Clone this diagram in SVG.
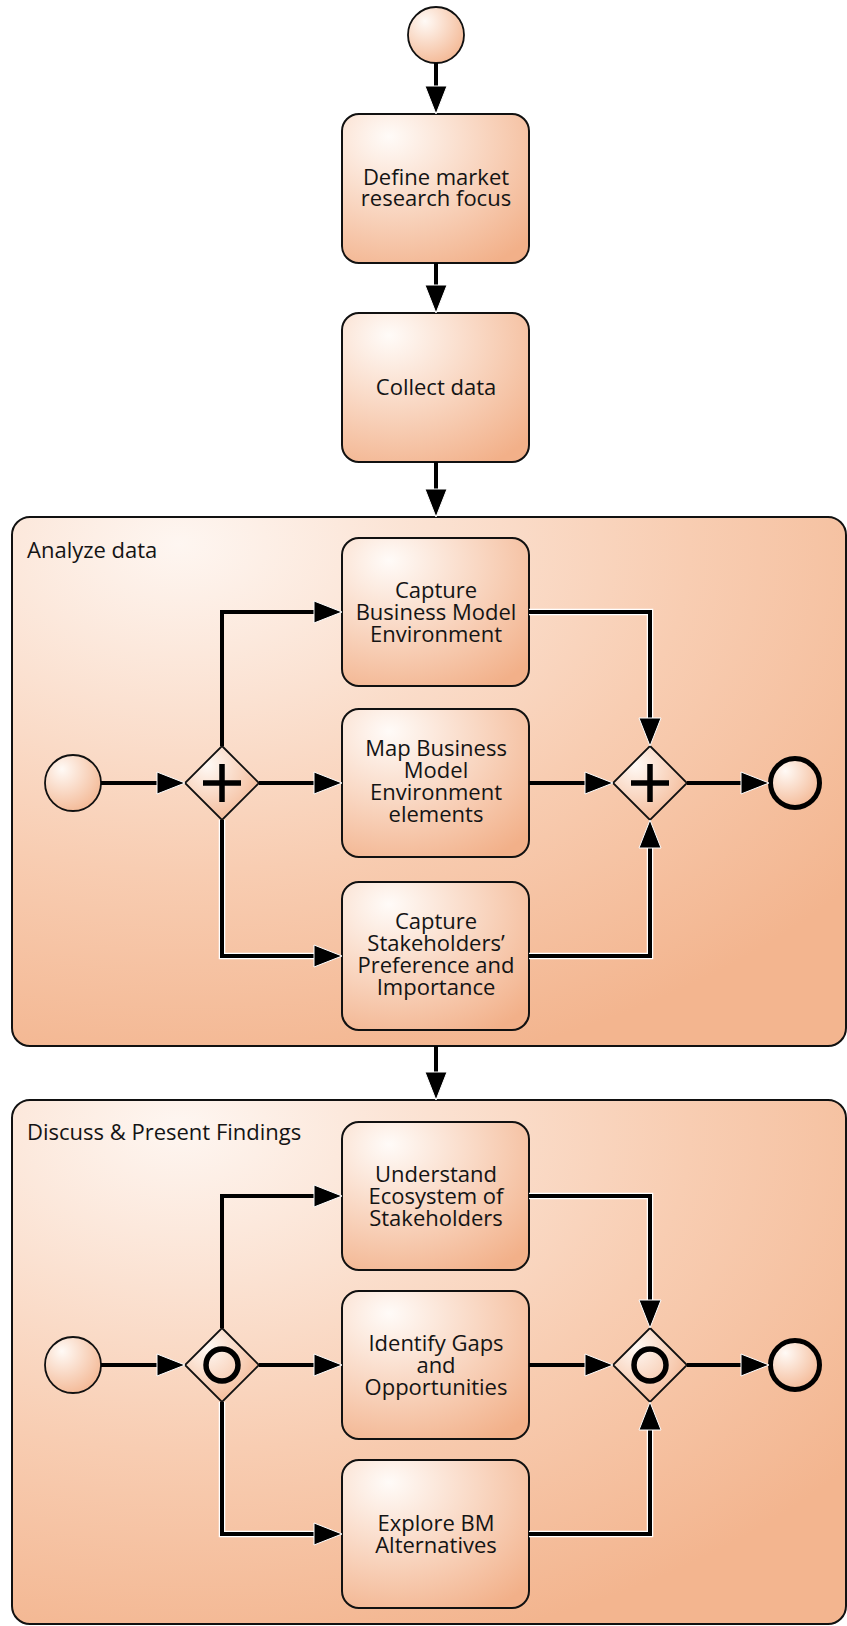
<svg xmlns="http://www.w3.org/2000/svg" width="847" height="1626" viewBox="0 0 847 1626">
<defs>
<radialGradient id="gTask" cx="0.3" cy="0.2" r="0.95" fx="0.25" fy="0.15">
<stop offset="0" stop-color="#fffbf8"/>
<stop offset="0.55" stop-color="#f8d2bb"/>
<stop offset="1" stop-color="#f2b089"/>
</radialGradient>
<radialGradient id="gCirc" cx="0.35" cy="0.3" r="0.8" fx="0.3" fy="0.25">
<stop offset="0" stop-color="#fffaf6"/>
<stop offset="1" stop-color="#f3b590"/>
</radialGradient>
<radialGradient id="gSub" cx="0.22" cy="0.08" r="1.0" fx="0.2" fy="0.05">
<stop offset="0" stop-color="#fef6f1"/>
<stop offset="0.6" stop-color="#f8cdb2"/>
<stop offset="1" stop-color="#f3b58f"/>
</radialGradient>
<marker id="arr" markerUnits="userSpaceOnUse" markerWidth="32" markerHeight="26" viewBox="-1 -1 32 26" refX="18" refY="12" orient="auto">
<path d="M0,1 L28,12 L0,23 Z" fill="#000" stroke="#fff" stroke-width="1"/>
</marker>
<style>
.task{fill:url(#gTask);stroke:#111;stroke-width:2}
.sub{fill:url(#gSub);stroke:#111;stroke-width:2}
.ev{fill:url(#gCirc);stroke:#111;stroke-width:1.8}
.end{fill:url(#gCirc);stroke:#000;stroke-width:5}
.gw{fill:url(#gCirc);stroke:#111;stroke-width:1.8}
.sym{fill:none;stroke:#000;stroke-width:5.5}
text{font-family:"Open Sans","Noto Sans","DejaVu Sans",sans-serif;font-size:22px;fill:#141414}
.c{text-anchor:middle}
.halo{fill:none;stroke:#fff;stroke-width:6.5}
.flow{fill:none;stroke:#000;stroke-width:4;marker-end:url(#arr)}
</style>
</defs>
<rect width="847" height="1626" fill="#fff"/>

<g id="start">
<circle class="ev" cx="436" cy="35" r="28"/>
</g>
<g id="task-define">
<rect class="task" x="342" y="114" width="187" height="149" rx="17"/>
<text class="c" x="436" y="185">Define market</text>
<text class="c" x="436" y="206">research focus</text>
</g>
<g id="task-collect">
<rect class="task" x="342" y="313" width="187" height="149" rx="17"/>
<text class="c" x="436" y="395">Collect data</text>
</g>

<g id="sub-analyze">
<rect class="sub" x="12" y="517" width="834" height="529" rx="18"/>
<text x="27" y="558">Analyze data</text>
</g>
<g id="a-start"><circle class="ev" cx="73" cy="783" r="28"/></g>
<g id="a-split">
<path class="gw" d="M222,746 L259,783 L222,820 L185,783 Z"/>
<path class="sym" d="M203,783 H241 M222,764 V802"/>
</g>
<g id="a-task1">
<rect class="task" x="342" y="538" width="187" height="148" rx="17"/>
<text class="c" x="436" y="598">Capture</text>
<text class="c" x="436" y="620">Business Model</text>
<text class="c" x="436" y="642">Environment</text>
</g>
<g id="a-task2">
<rect class="task" x="342" y="709" width="187" height="148" rx="17"/>
<text class="c" x="436" y="756">Map Business</text>
<text class="c" x="436" y="778">Model</text>
<text class="c" x="436" y="800">Environment</text>
<text class="c" x="436" y="822">elements</text>
</g>
<g id="a-task3">
<rect class="task" x="342" y="882" width="187" height="148" rx="17"/>
<text class="c" x="436" y="929">Capture</text>
<text class="c" x="436" y="951">Stakeholders’</text>
<text class="c" x="436" y="973">Preference and</text>
<text class="c" x="436" y="995">Importance</text>
</g>
<g id="a-join">
<path class="gw" d="M650,746 L687,783 L650,820 L613,783 Z"/>
<path class="sym" d="M631,783 H669 M650,764 V802"/>
</g>
<g id="a-end"><circle class="end" cx="795" cy="783" r="24.5"/></g>

<g id="sub-discuss">
<rect class="sub" x="12" y="1100" width="834" height="524" rx="18"/>
<text x="27" y="1140">Discuss &amp; Present Findings</text>
</g>
<g id="d-start"><circle class="ev" cx="73" cy="1365" r="28"/></g>
<g id="d-split">
<path class="gw" d="M222,1328 L259,1365 L222,1402 L185,1365 Z"/>
<circle class="sym" cx="222" cy="1365" r="16" stroke-width="4.5"/>
</g>
<g id="d-task1">
<rect class="task" x="342" y="1122" width="187" height="148" rx="17"/>
<text class="c" x="436" y="1182">Understand</text>
<text class="c" x="436" y="1204">Ecosystem of</text>
<text class="c" x="436" y="1226">Stakeholders</text>
</g>
<g id="d-task2">
<rect class="task" x="342" y="1291" width="187" height="148" rx="17"/>
<text class="c" x="436" y="1351">Identify Gaps</text>
<text class="c" x="436" y="1373">and</text>
<text class="c" x="436" y="1395">Opportunities</text>
</g>
<g id="d-task3">
<rect class="task" x="342" y="1460" width="187" height="148" rx="17"/>
<text class="c" x="436" y="1531">Explore BM</text>
<text class="c" x="436" y="1553">Alternatives</text>
</g>
<g id="d-join">
<path class="gw" d="M650,1328 L687,1365 L650,1402 L613,1365 Z"/>
<circle class="sym" cx="650" cy="1365" r="16" stroke-width="4.5"/>
</g>
<g id="d-end"><circle class="end" cx="795" cy="1365" r="24.5"/></g>

<g id="connectors">
<g class="halos">
<path class="halo" d="M529,612 H650 V736"/>
<path class="halo" d="M529,956 H650 V830"/>
<path class="halo" d="M222,820 V956 H332"/>
<path class="halo" d="M529,1196 H650 V1318"/>
<path class="halo" d="M529,1534 H650 V1412"/>
<path class="halo" d="M222,1402 V1534 H332"/>
</g>
<path class="flow" d="M436,63 V104"/>
<path class="flow" d="M436,263 V303"/>
<path class="flow" d="M436,462 V507"/>
<path class="flow" d="M436,1046 V1090"/>

<path class="flow" d="M101,783 H175"/>
<path class="flow" d="M222,746 V612 H332"/>
<path class="flow" d="M259,783 H332"/>
<path class="flow" d="M222,820 V956 H332"/>
<path class="flow" d="M529,612 H650 V736"/>
<path class="flow" d="M529,783 H603"/>
<path class="flow" d="M529,956 H650 V830"/>
<path class="flow" d="M687,783 H759"/>

<path class="flow" d="M101,1365 H175"/>
<path class="flow" d="M222,1328 V1196 H332"/>
<path class="flow" d="M259,1365 H332"/>
<path class="flow" d="M222,1402 V1534 H332"/>
<path class="flow" d="M529,1196 H650 V1318"/>
<path class="flow" d="M529,1365 H603"/>
<path class="flow" d="M529,1534 H650 V1412"/>
<path class="flow" d="M687,1365 H759"/>
</g>
</svg>
